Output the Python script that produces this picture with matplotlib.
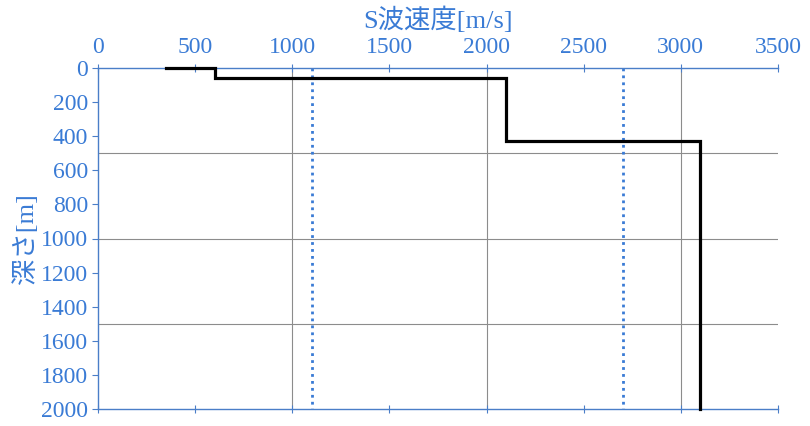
import matplotlib
matplotlib.use("Agg")
import matplotlib.pyplot as plt

# Data
profile_velocity = [350, 600, 600, 2100, 2100, 3100, 3100]   # m/s
profile_depth = [0, 0, 60, 60, 430, 430, 2000]              # m
ref_velocities = [1100, 2700]                               # dotted reference lines
x_ticks = [0, 500, 1000, 1500, 2000, 2500, 3000, 3500]
y_ticks = list(range(0, 2001, 200))
x_grid = [1000, 2000, 3000]
y_grid = [500, 1000, 1500]
x_label = "S波速度[m/s]"
y_label = "深さ[m]"

FAM = ['Liberation Serif', 'Noto Sans CJK JP', 'DejaVu Sans']
plt.rcParams['font.family'] = FAM
TXT = '#3a7bd5'
SPN = '#4a7ec8'

fig = plt.figure(figsize=(8.10, 4.26), dpi=100)
ax = fig.add_axes([98/810, 1-409/426, (778-98)/810, (409-68)/426])

ax.set_xlim(0, 3500)
ax.set_ylim(2000, 0)

for g in x_grid:
    ax.axvline(g, color='#8c8c8c', lw=0.8, zorder=1)
for g in y_grid:
    ax.axhline(g, color='#8c8c8c', lw=0.8, zorder=1)

for v in ref_velocities:
    ax.plot([v, v], [0, 2000], color='#3a7bd5', lw=2.0,
            dashes=(1.0, 1.5), zorder=2, dash_capstyle='butt')

ax.plot(profile_velocity, profile_depth, color='black', lw=2.3, zorder=3,
        solid_joinstyle='miter', clip_on=False)

ax.xaxis.tick_top()
ax.xaxis.set_label_position('top')
ax.set_xticks(x_ticks)
ax.set_yticks(y_ticks)
ax.tick_params(axis='x', which='both', top=True, bottom=True, labeltop=True,
               labelbottom=False, direction='inout', length=6, width=0.8,
               color=SPN, labelcolor=TXT, labelsize=17, pad=4)
ax.tick_params(axis='y', direction='out', length=4, width=0.8, color=SPN,
               labelcolor=TXT, labelsize=17, pad=3)

for s in ['top', 'left', 'bottom']:
    ax.spines[s].set_color(SPN)
    ax.spines[s].set_linewidth(1.0)
ax.spines['right'].set_visible(False)

ax.set_xlabel(x_label, color=TXT, fontsize=19, labelpad=7, family=FAM)
ax.set_ylabel(y_label, color=TXT, fontsize=19, labelpad=2, family=FAM)

fig.savefig('out.png', dpi=100)
